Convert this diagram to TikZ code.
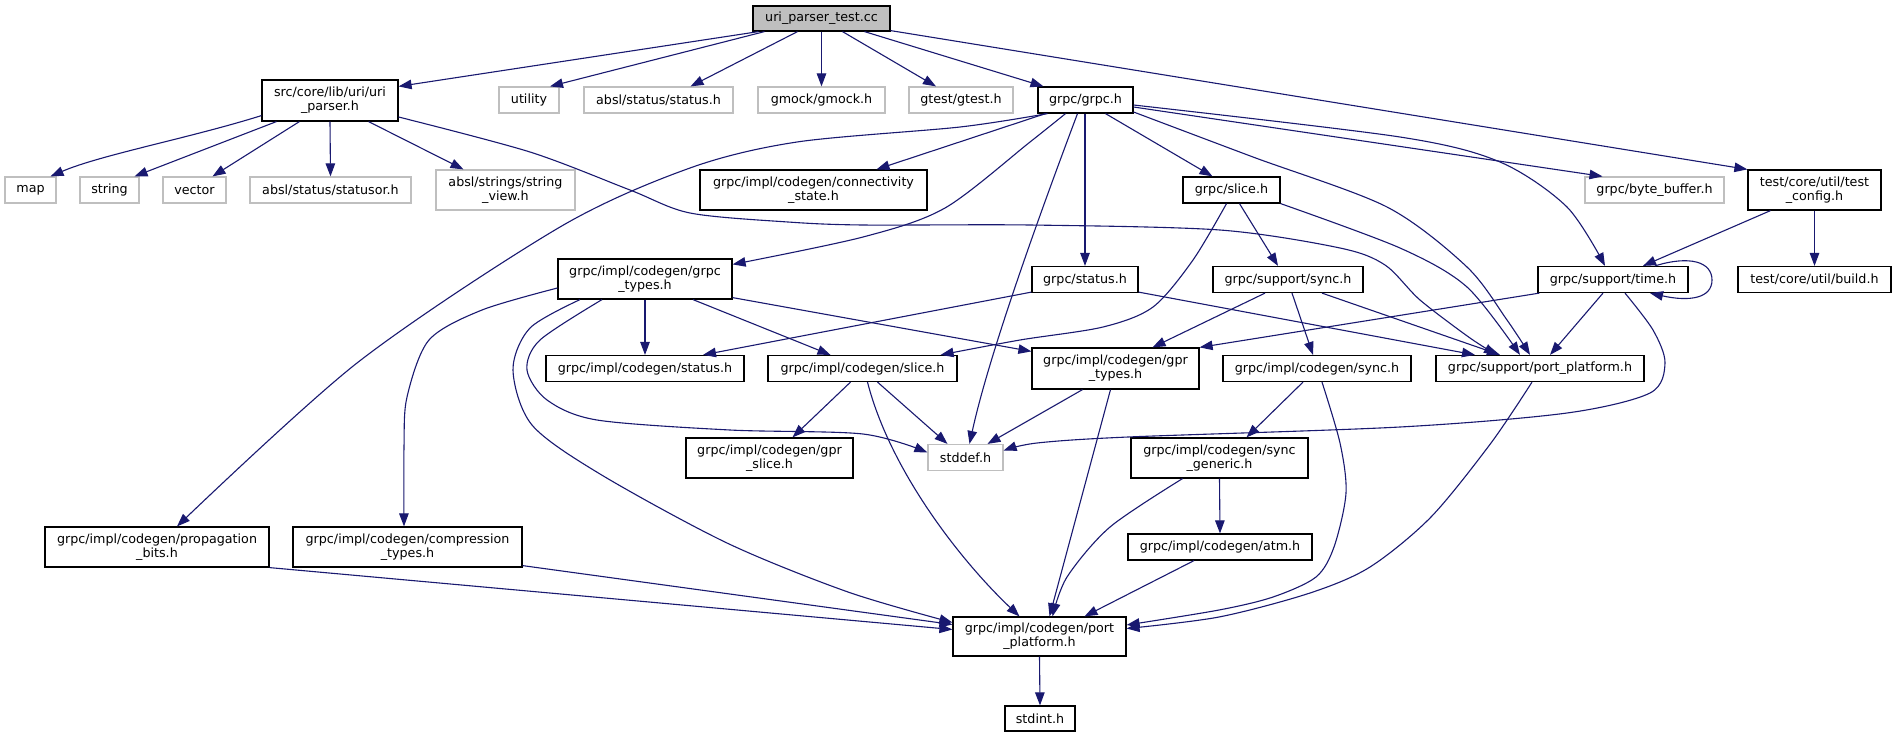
\documentclass[tikz,border=0pt]{standalone}
\usepackage{fontspec}
\setmainfont{DejaVu Sans}
\usetikzlibrary{arrows.meta}
\definecolor{edgeblue}{HTML}{191970}
\definecolor{grayb}{HTML}{BFBFBF}
\begin{document}
\begin{tikzpicture}[x=1pt,y=-1pt,
  nd/.style={draw=black, line width=1.2pt, fill=white, inner sep=0pt, align=center, font=\fontsize{12.7}{14.3}\selectfont},
  gy/.style={nd, draw=grayb},
  e/.style={draw=edgeblue, line width=1.1pt, -{Triangle[length=13pt,width=9.5pt]}},
  sm/.style={smooth, tension=0.5}
]
\fill[white] (0,0) rectangle (1896,737);
\useasboundingbox (0,0) rectangle (1896,737);

% nodes
\node[nd, fill=grayb, minimum width=137pt, minimum height=25pt] (root) at (821.5,18.5) {uri\_parser\_test.cc};
\node[nd, minimum width=136pt, minimum height=41pt] (uriparser) at (330,100.5) {src/core/lib/uri/uri\\\_parser.h};
\node[gy, minimum width=60pt, minimum height=26pt] (utility) at (529,100) {utility};
\node[gy, minimum width=149pt, minimum height=26pt] (abslstatus) at (658.5,100) {absl/status/status.h};
\node[gy, minimum width=127pt, minimum height=26pt] (gmock) at (821.5,100) {gmock/gmock.h};
\node[gy, minimum width=104pt, minimum height=26pt] (gtest) at (961,100) {gtest/gtest.h};
\node[nd, minimum width=95pt, minimum height=26pt] (grpc) at (1085.5,100) {grpc/grpc.h};

\node[gy, minimum width=51pt, minimum height=26pt] (map) at (30.5,190) {map};
\node[gy, minimum width=59pt, minimum height=26pt] (string) at (109.5,190) {string};
\node[gy, minimum width=63pt, minimum height=26pt] (vector) at (194.5,190) {vector};
\node[gy, minimum width=161pt, minimum height=26pt] (statusor) at (330.5,190) {absl/status/statusor.h};
\node[gy, minimum width=139pt, minimum height=40pt] (strview) at (505.5,190) {absl/strings/string\\\_view.h};
\node[nd, minimum width=227pt, minimum height=40pt] (connect) at (813.5,190) {grpc/impl/codegen/connectivity\\\_state.h};
\node[nd, minimum width=97pt, minimum height=26pt] (grpcslice) at (1231.5,190) {grpc/slice.h};
\node[gy, minimum width=139pt, minimum height=26pt] (bytebuf) at (1654.5,190) {grpc/byte\_buffer.h};
\node[nd, minimum width=133pt, minimum height=40pt] (testcfg) at (1814.5,190) {test/core/util/test\\\_config.h};

\node[nd, minimum width=174pt, minimum height=40pt] (grpctypes) at (645,279) {grpc/impl/codegen/grpc\\\_types.h};
\node[nd, minimum width=106pt, minimum height=26pt] (grpcstatus) at (1085,279.5) {grpc/status.h};
\node[nd, minimum width=150pt, minimum height=26pt] (supsync) at (1288,279.5) {grpc/support/sync.h};
\node[nd, minimum width=150pt, minimum height=26pt] (time) at (1613,279.5) {grpc/support/time.h};
\node[nd, minimum width=153pt, minimum height=26pt] (build) at (1814.5,279.5) {test/core/util/build.h};

\node[nd, minimum width=198pt, minimum height=26pt] (cgstatus) at (645,368.5) {grpc/impl/codegen/status.h};
\node[nd, minimum width=189pt, minimum height=26pt] (cgslice) at (862.5,368.5) {grpc/impl/codegen/slice.h};
\node[nd, minimum width=167pt, minimum height=41pt] (gprtypes) at (1115.5,368.5) {grpc/impl/codegen/gpr\\\_types.h};
\node[nd, minimum width=188pt, minimum height=26pt] (cgsync) at (1317,368.5) {grpc/impl/codegen/sync.h};
\node[nd, minimum width=208pt, minimum height=26pt] (portplat) at (1540,368.5) {grpc/support/port\_platform.h};

\node[nd, minimum width=167pt, minimum height=40pt] (gprslice) at (769.5,458) {grpc/impl/codegen/gpr\\\_slice.h};
\node[gy, minimum width=75pt, minimum height=26pt] (stddef) at (965.5,457.5) {stddef.h};
\node[nd, minimum width=177pt, minimum height=40pt] (syncgen) at (1219.5,458) {grpc/impl/codegen/sync\\\_generic.h};

\node[nd, minimum width=224pt, minimum height=40pt] (propbits) at (157,547) {grpc/impl/codegen/propagation\\\_bits.h};
\node[nd, minimum width=229pt, minimum height=40pt] (compress) at (407.5,547) {grpc/impl/codegen/compression\\\_types.h};
\node[nd, minimum width=184pt, minimum height=26pt] (atm) at (1220,547) {grpc/impl/codegen/atm.h};

\node[nd, minimum width=173pt, minimum height=39pt] (cgport) at (1039.5,636.5) {grpc/impl/codegen/port\\\_platform.h};
\node[nd, minimum width=70pt, minimum height=25pt] (stdint) at (1040,718.5) {stdint.h};

% edges from root
\draw[e] ([xshift=-63pt]root.south) -- ([yshift=-7pt]uriparser.north east);
\draw[e] ([xshift=-57pt]root.south) -- ([xshift=21pt]utility.north);
\draw[e] ([xshift=-24pt]root.south) -- ([xshift=32pt]abslstatus.north);
\draw[e] (root.south) -- (gmock.north);
\draw[e] ([xshift=21pt]root.south) -- ([xshift=-25pt]gtest.north);
\draw[e] ([xshift=43pt]root.south) -- ([xshift=-42pt]grpc.north);
\draw[e] ([yshift=1pt]root.south east) -- (testcfg.north west);

% uri_parser.h
\draw[e] ([yshift=6pt]uriparser.south west) .. controls (190,138) and (100,155) .. ([xshift=20pt]map.north);
\draw[e] ([xshift=15pt]uriparser.south west) -- ([xshift=25pt]string.north);
\draw[e] ([xshift=38pt]uriparser.south west) -- ([xshift=18pt]vector.north);
\draw[e] (uriparser.south) -- (statusor.north);
\draw[e] ([xshift=-30pt]uriparser.south east) -- ([xshift=-42pt]strview.north);
\draw[e] plot[sm] coordinates {([yshift=-16.5pt]uriparser.east) (530,152) (630,190) (690,213) (788,222) (863,225) (1030,225) (1220,230) (1340,248) (1385,265) (1420,300) (1470,338) ([xshift=-43pt]portplat.north)};

% grpc.h
\draw[e] plot[sm] coordinates {([xshift=-38pt]grpc.south) (960,127) (797,142) (690,168) (560,227) (357,363) ([xshift=20pt]propbits.north)};
\draw[e] ([xshift=-40pt]grpc.south) -- ([xshift=63pt]connect.north);
\draw[e] plot[sm] coordinates {([xshift=-20pt]grpc.south) (1030,142) (945,208) (863,237) ([yshift=-6pt]grpctypes.north east)};
\draw[e] ([xshift=-8pt]grpc.south) .. controls (1045,200) and (990,350) .. ([xshift=4pt]stddef.north);
\draw[e] ([xshift=-0.5pt]grpc.south) -- (grpcstatus.north);
\draw[e] ([xshift=20pt]grpc.south) -- ([xshift=-19pt]grpcslice.north);
\draw[e] ([yshift=-7pt]grpc.east) -- ([xshift=-52pt]bytebuf.north);
\draw[e] plot[sm] coordinates {([yshift=-5pt]grpc.east) (1400,137) (1500,162) (1567,207) ([xshift=-8pt]time.north)};
\draw[e] plot[sm] coordinates {([yshift=-12pt]grpc.east) (1253,157) (1387,207) (1467,267) (1507,320) ([xshift=-10pt]portplat.north)};

% grpc/slice.h
\draw[e] plot[sm] coordinates {([xshift=-5pt]grpcslice.south) (1193,260) (1153,307) (1103,327) (1020,340) ([xshift=-17pt]cgslice.north east)};
\draw[e] ([xshift=8pt]grpcslice.south) -- ([xshift=-10pt]supsync.north);
\draw[e] plot[sm] coordinates {(grpcslice.south east) (1400,248) (1467,287) ([xshift=-20pt]portplat.north)};

% test_config.h
\draw[e] ([xshift=-44pt]testcfg.south) -- ([xshift=30pt]time.north);
\draw[e] (testcfg.south) -- (build.north);

% grpc_types.h
\draw[e] plot[sm] coordinates {([yshift=-9pt]grpctypes.west) (482,310) (429,340) (407,397) (404,447) ([xshift=-3.5pt]compress.north)};
\draw[e] plot[sm] coordinates {([xshift=-65pt]grpctypes.south) (530,328) (513,370) (532,425) (600,474) (727,543) (848,592) ([yshift=14pt]cgport.west)};
\draw[e] plot[sm] coordinates {([xshift=-43pt]grpctypes.south) (540,340) (527,370) (547,400) (597,420) (730,430) (863,434) ([yshift=5pt]stddef.west)};
\draw[e] (grpctypes.south) -- (cgstatus.north);
\draw[e] ([xshift=48pt]grpctypes.south) -- ([xshift=-32pt]cgslice.north);
\draw[e] ([yshift=2pt]grpctypes.south east) -- ([yshift=-4pt]gprtypes.north west);

% grpc/status.h
\draw[e] ([yshift=1pt]grpcstatus.south west) -- ([xshift=58pt]cgstatus.north);
\draw[e] ([yshift=1pt]grpcstatus.south east) -- ([xshift=-65pt]portplat.north);

% grpc/support/sync.h
\draw[e] ([xshift=-23pt]supsync.south) -- ([xshift=37pt]gprtypes.north);
\draw[e] ([xshift=4pt]supsync.south) -- ([xshift=-4pt]cgsync.north);
\draw[e] ([xshift=34pt]supsync.south) -- ([xshift=-40pt]portplat.north);

% grpc/support/time.h
\draw[e] ([xshift=42pt]time.north) .. controls (1690,255) and (1712,262) .. (1712,280) .. controls (1712,298) and (1690,302) .. ([xshift=37pt]time.south);
\draw[e] ([xshift=2pt]time.south west) -- (gprtypes.north east);
\draw[e] ([xshift=-10pt]time.south) -- ([xshift=10pt]portplat.north);
\draw[e] plot[sm] coordinates {([xshift=12pt]time.south) (1653,330) (1665,363) (1650,393) (1567,413) (1400,427) (1128,437) (1037,443) ([yshift=7pt]stddef.east)};

% codegen/slice.h
\draw[e] ([xshift=-12pt]cgslice.south) -- ([xshift=23pt]gprslice.north);
\draw[e] ([xshift=15pt]cgslice.south) -- ([xshift=-18pt]stddef.north);
\draw[e] ([xshift=5pt]cgslice.south) .. controls (890,470) and (960,560) .. ([xshift=-20pt]cgport.north);

% gpr_types.h
\draw[e] ([xshift=-33pt]gprtypes.south) -- ([xshift=22pt]stddef.north);
\draw[e] ([xshift=-5pt]gprtypes.south) -- ([xshift=10pt]cgport.north);

% codegen/sync.h
\draw[e] ([xshift=-14pt]cgsync.south) -- ([xshift=27pt]syncgen.north);
\draw[e] plot[sm] coordinates {([xshift=5pt]cgsync.south) (1340,443) (1346,493) (1334,547) (1316,577) (1273,597) (1219,610) ([yshift=11.5pt]cgport.east)};

% support/port_platform.h
\draw[e] plot[sm] coordinates {([xshift=-8pt]portplat.south) (1491,443) (1431,517) (1370,567) (1310,593) (1219,617) ([yshift=8pt]cgport.east)};

% sync_generic.h
\draw[e] (syncgen.south) -- (atm.north);
\draw[e] plot[sm] coordinates {([xshift=-37pt]syncgen.south) (1110,527) (1067,577) ([xshift=13pt]cgport.north)};

% atm.h, propagation, compression
\draw[e] ([xshift=-26pt]atm.south) -- ([xshift=45pt]cgport.north);
\draw[e] (propbits.south east) -- ([yshift=7pt]cgport.west);
\draw[e] ([yshift=2pt]compress.south east) -- ([yshift=12pt]cgport.west);
\draw[e] (cgport.south) -- (stdint.north);
\end{tikzpicture}
\end{document}
